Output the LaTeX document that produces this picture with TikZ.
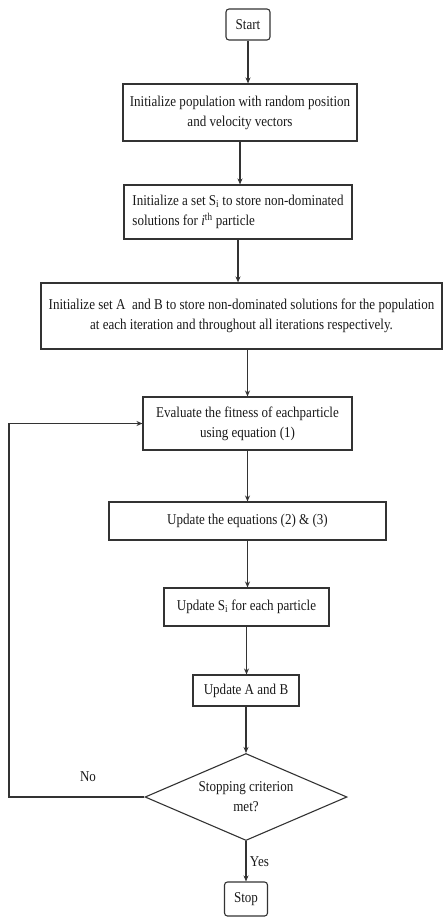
\documentclass[tikz,border=0pt]{standalone}
\usepackage{fontspec}
\setmainfont{Liberation Serif}[FakeStretch=0.87]
\usetikzlibrary{shapes.geometric,arrows.meta}

\begin{document}
\begin{tikzpicture}[x=1pt,y=-1pt,
  box/.style={draw=black!80,line width=1.1pt,inner sep=1pt,text=black!90,font=\fontsize{15}{20}\selectfont},
  endbox/.style={box,rounded corners=3pt},
  decide/.style={box,diamond,aspect=2.3,inner sep=0pt},
  flow/.style={draw=black!80,line width=1.1pt,-{Stealth[length=6pt,width=5pt]}},
  lbl/.style={text=black!90,font=\fontsize{15}{20}\selectfont}]
\useasboundingbox (0,0) rectangle (446,917);

\node[endbox,minimum width=44,minimum height=31] (start) at (248,24.5) {Start};
\node[box,minimum width=234,minimum height=57,align=center] (init) at (240,112.5)
  {Initialize population with random position\\and velocity vectors};
\node[box,minimum width=228,minimum height=54,align=left] (seti) at (238,212)
  {Initialize a set S\textsubscript{i} to store non-dominated\\solutions for \textit{i}\textsuperscript{th} particle};
\node[box,minimum width=401,minimum height=66,align=center] (setab) at (241.5,316)
  {Initialize set A \ and B to store non-dominated solutions for the population\\at each iteration and throughout all iterations respectively.};
\node[box,minimum width=209,minimum height=53,align=center] (eval) at (247.5,423.5)
  {Evaluate the fitness of eachparticle\\using equation (1)};
\node[box,minimum width=277,minimum height=38] (upd) at (247.5,521) {Update the equations (2) \& (3)};
\node[box,minimum width=165,minimum height=38] (updsi) at (246.5,607) {Update S\textsubscript{i} for each particle};
\node[box,minimum width=106,minimum height=31] (updab) at (246,690.5) {Update A and B};
\node[decide,minimum width=202,minimum height=87,align=center] (crit) at (246,797) {Stopping criterion\\met?};
\node[endbox,minimum width=43,minimum height=34] (stop) at (246,899) {Stop};

\coordinate (back) at (9,797); %corner of the loop

\draw[flow] (start.south) -- (start.south |- init.north);
\draw[flow] (init.south) -- (init.south |- seti.north);
\draw[flow] (seti.south) -- (seti.south |- setab.north);
\draw[flow] (eval.north |- setab.south) -- (eval.north);
\draw[flow] (eval.south) -- (upd.north);
\draw[flow] (upd.south) -- (upd.south |- updsi.north);
\draw[flow] (updsi.south) -- (updsi.south |- updab.north);
\draw[flow] (updab.south) -- (crit.north);
\draw[flow] (crit.south) -- node[lbl,right] {Yes} (crit.south |- stop.north);
\draw[flow] (crit.west) -- (back) |- (eval.west); %no: go back
\node[lbl] (no) at (88,777) {No};

\end{tikzpicture}
\end{document}
